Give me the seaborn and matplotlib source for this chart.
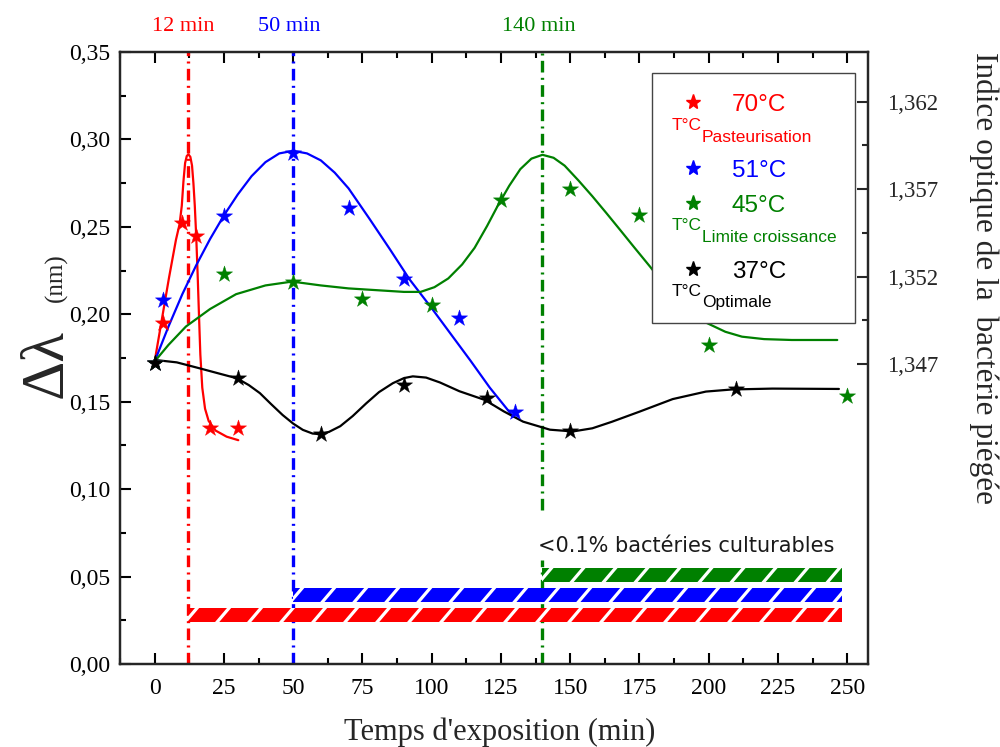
import numpy as np
import matplotlib
matplotlib.use('Agg')
import matplotlib.pyplot as plt
import matplotlib.transforms as mtransforms
from matplotlib.patches import Rectangle
from matplotlib.ticker import MultipleLocator, FixedLocator, FuncFormatter
import seaborn as sns

# measured points (stars)
t70 = [0, 3, 10, 15, 20, 30]
d70 = [0.172, 0.195, 0.252, 0.245, 0.135, 0.135]
t51 = [0, 3, 25, 50, 70, 90, 110, 130]
d51 = [0.172, 0.208, 0.256, 0.2925, 0.261, 0.220, 0.198, 0.144]
t45 = [0, 25, 50, 75, 100, 125, 150, 175, 200, 250]
d45 = [0.172, 0.223, 0.2185, 0.209, 0.2055, 0.2655, 0.2715, 0.2565, 0.1825, 0.1535]
t37 = [0, 30, 60, 90, 120, 150, 210]
d37 = [0.172, 0.1635, 0.1315, 0.1595, 0.152, 0.1333, 0.1573]

# fitted curves
fit70_t = [0, 2.6, 5.2, 7.7, 9.0, 9.8, 10.4, 11.0, 11.6, 12.2, 12.9, 13.5, 14.0, 14.5,
           15.0, 15.5, 16.0, 16.5, 17.2, 18.2, 19.5, 22.0, 26.0, 30.2]
fit70_d = [0.173, 0.197, 0.221, 0.2426, 0.2515, 0.262, 0.276, 0.2865, 0.2905, 0.2915, 0.2900,
           0.285, 0.275, 0.262, 0.245, 0.224, 0.200, 0.177, 0.158, 0.146, 0.139, 0.1335, 0.130, 0.128]
fit51_t = [0, 5, 10, 15, 20, 25, 30, 35, 40, 45, 50, 55, 60, 65, 70, 77.6, 85, 92, 100,
           107, 114, 121, 129.4]
fit51_d = [0.173, 0.193, 0.2115, 0.228, 0.243, 0.2565, 0.2685, 0.279, 0.287, 0.292, 0.2935,
           0.292, 0.288, 0.281, 0.272, 0.2545, 0.237, 0.220, 0.2035, 0.1885, 0.1735, 0.158, 0.1415]
fit45_t = [0, 5, 11.3, 20, 29.4, 40, 49.6, 60, 70, 80, 90, 96, 101, 106, 111, 115.5, 120,
           124, 128, 132, 136, 140, 144, 148, 153, 158, 163, 168, 173, 178.8, 185, 191, 196,
           200, 206, 212, 220, 230, 246.4]
fit45_d = [0.173, 0.1825, 0.193, 0.203, 0.2115, 0.2165, 0.2187, 0.2165, 0.2148, 0.2138,
           0.2128, 0.2128, 0.2155, 0.2205, 0.2285, 0.238, 0.2505, 0.2625, 0.2735, 0.283,
           0.289, 0.2912, 0.2895, 0.285, 0.2765, 0.2675, 0.258, 0.2483, 0.2385, 0.2273,
           0.215, 0.204, 0.1975, 0.1945, 0.190, 0.1872, 0.1858, 0.1853, 0.1853]
fit37_t = [0, 8, 16, 24, 29.7, 34, 38, 42, 46.2, 50, 53.5, 57, 60, 63, 67, 71.5, 76.4, 81,
           86, 90, 93.2, 98, 103, 110, 119.2, 126, 133, 142.7, 151, 158, 165, 175, 187, 199,
           208.4, 223, 247]
fit37_d = [0.1739, 0.1725, 0.1692, 0.1658, 0.1634, 0.1595, 0.1549, 0.1487, 0.1424, 0.1375,
           0.1339, 0.1318, 0.1314, 0.1328, 0.136, 0.1418, 0.1491, 0.1555, 0.1606, 0.1635,
           0.1645, 0.1638, 0.161, 0.156, 0.151, 0.1445, 0.1386, 0.134, 0.133, 0.1348, 0.1385,
           0.1443, 0.1515, 0.1558, 0.157, 0.1575, 0.1573]

# inactivation times and "<0.1% culturables" bars
kill_t = [12, 50, 140]
kill_labels = ['12 min', '50 min', '140 min']
bar_start = [12, 50, 140]
bar_end = 248
bar_y = [0.028, 0.0395, 0.051]
bar_h = 0.0078

right_ticks = [1.347, 1.352, 1.357, 1.362]

RED, BLUE, GREEN, BLACK = '#ff0000', '#0000ff', '#008000', '#000000'
cols = [RED, BLUE, GREEN]

sns.set_theme(style='ticks')
plt.rcParams['font.family'] = ['Liberation Serif', 'DejaVu Serif']
plt.rcParams['axes.linewidth'] = 1.6

fig = plt.figure(figsize=(10, 7.47), dpi=100)
ax = fig.add_axes([0.12, 0.1111, 0.748, 0.8193])
XL = (-12.5, 257.5)
YL = (0, 0.35)

# vertical dash-dot lines (green one is interrupted by the caption)
dd = (3.5, 1.6, 0.6, 1.6)
ax.axvline(kill_t[0], color=RED, lw=2.4, dashes=dd, zorder=1)
ax.axvline(kill_t[1], color=BLUE, lw=2.4, dashes=dd, zorder=1)
ax.axvline(kill_t[2], color=GREEN, lw=2.4, dashes=dd, zorder=1, ymax=0.17)
ax.axvline(kill_t[2], color=GREEN, lw=2.4, dashes=dd, zorder=1, ymin=0.252)

# curves
for tt, yy, c in [(fit70_t, fit70_d, RED), (fit51_t, fit51_d, BLUE),
                  (fit45_t, fit45_d, GREEN), (fit37_t, fit37_d, BLACK)]:
    sns.lineplot(x=tt, y=yy, color=c, lw=1.6, sort=False, estimator=None, ax=ax, zorder=2)

# stars
for tt, yy, c in [(t70, d70, RED), (t51, d51, BLUE), (t45, d45, GREEN), (t37, d37, BLACK)]:
    sns.scatterplot(x=tt, y=yy, marker='*', s=150, color=c, edgecolor=c, linewidth=0.3,
                    ax=ax, zorder=5)

ax.set_xlim(*XL)
ax.set_ylim(*YL)

# hatched bars
bars = ax.barh(bar_y, [bar_end - s for s in bar_start], left=bar_start, height=bar_h,
               color=cols, linewidth=0, zorder=3)
ax_w_px = 0.748 * 1000
ax_h_px = 0.8193 * 747
dpx_x = (XL[1] - XL[0]) / ax_w_px
dpx_y = (YL[1] - YL[0]) / ax_h_px
for p in bars.patches:
    x0, y0 = p.get_x(), p.get_y()
    x1, y1 = x0 + p.get_width(), y0 + p.get_height()
    hp = (y1 - y0) / dpx_y
    dx = hp * 0.85 * dpx_x
    step = 32 * dpx_x
    for xs in np.arange(x0 - 1.5 * dx + 9 * dpx_x, x1 + step, step):
        ln, = ax.plot([xs, xs + 2 * dx], [y0 - (y1 - y0) / 2, y1 + (y1 - y0) / 2],
                      color='white', lw=2.3, solid_capstyle='butt', zorder=4)
        ln.set_clip_path(p)

ax.text(138.5, 0.0675, '<0.1% bactéries culturables', family='DejaVu Sans', fontsize=15,
        color='#1a1a1a', ha='left', va='center', zorder=6)

# top labels
trans = mtransforms.blended_transform_factory(ax.transData, ax.transAxes)
for v, lab, c in zip(kill_t, kill_labels, cols):
    ax.text(v - 1.5, 1.041, lab, color=c, fontsize=16, ha='center', va='center',
            transform=trans)

# axes styling
fmt2 = FuncFormatter(lambda v, p: f'{v:.2f}'.replace('.', ','))
ax.xaxis.set_major_locator(MultipleLocator(25))
ax.xaxis.set_minor_locator(MultipleLocator(12.5))
ax.yaxis.set_major_locator(MultipleLocator(0.05))
ax.yaxis.set_minor_locator(MultipleLocator(0.025))
ax.yaxis.set_major_formatter(fmt2)
ax.tick_params(which='both', direction='in', top=True, right=False, width=1.5,
               labelsize=17, colors='black')
ax.tick_params(which='major', length=8)
ax.tick_params(which='minor', length=4.5)
ax.tick_params(axis='x', pad=10)
ax.tick_params(axis='y', pad=7)
ax.set_xlabel('')
ax.set_ylabel('')
for s in ax.spines.values():
    s.set_linewidth(1.6)
    s.set_color('black')

# right axis: optical index
ax2 = ax.twinx()
ax2.set_ylim(1.32984, 1.36484)
ax2.yaxis.set_major_locator(FixedLocator(right_ticks))
ax2.yaxis.set_minor_locator(FixedLocator([t + 0.0025 for t in right_ticks[:-1]]))
ax2.yaxis.set_major_formatter(FuncFormatter(lambda v, p: f'{v:.3f}'.replace('.', ',')))
ax2.tick_params(which='both', direction='in', width=1.5, labelsize=16.5, pad=14)
ax2.tick_params(which='major', length=8)
ax2.tick_params(which='minor', length=4.5)
for s in ax2.spines.values():
    s.set_linewidth(1.6)

# legend, built by hand
ax.add_patch(Rectangle((0.711, 0.557), 0.272, 0.409, transform=ax.transAxes, fc='white',
                       ec='#444444', lw=1.0, zorder=7))
leg = [(RED, '70°C', 0.919, 0.9044, 'Pasteurisation', 0.8725, 0.8534),
       (BLUE, '51°C', 0.810, 0.7953, None, None, None),
       (GREEN, '45°C', 0.754, 0.7391, 'Limite croissance', 0.7092, 0.6895),
       (BLACK, '37°C', 0.645, 0.6302, 'Optimale', 0.6013, 0.5833)]
for c, lab, ys, yb, sub, yt, ysub in leg:
    ax.plot([0.766], [ys], marker='*', ms=11, color=c, mec=c, ls='none',
            transform=ax.transAxes, zorder=8)
    ax.text(0.818, yb, lab, color=c, fontsize=17.5, family='Liberation Sans',
            ha='left', va='baseline', transform=ax.transAxes, zorder=8)
    if sub:
        ax.text(0.737, yt, 'T°C', color=c, fontsize=12.5, family='Liberation Sans',
                ha='left', va='baseline', transform=ax.transAxes, zorder=8)
        ax.text(0.778, ysub, sub, color=c, fontsize=12.5, family='Liberation Sans',
                ha='left', va='baseline', transform=ax.transAxes, zorder=8)

# axis titles
fig.text(0.5, 1 - 732 / 747, "Temps d'exposition (min)", fontsize=22, ha='center', va='center')
fig.text(0.984, 1 - 278 / 747, 'Indice optique de la  bactérie piégée', fontsize=22.5,
         rotation=270, ha='center', va='center')
fig.text(0.062, 1 - 398 / 747, 'Δλ', fontsize=44, rotation=90, rotation_mode='anchor',
         ha='left', va='baseline')
fig.text(0.062, 1 - 302 / 747, '(nm)', fontsize=18, rotation=90, rotation_mode='anchor',
         ha='left', va='baseline')

fig.savefig('out.png', dpi=100)
